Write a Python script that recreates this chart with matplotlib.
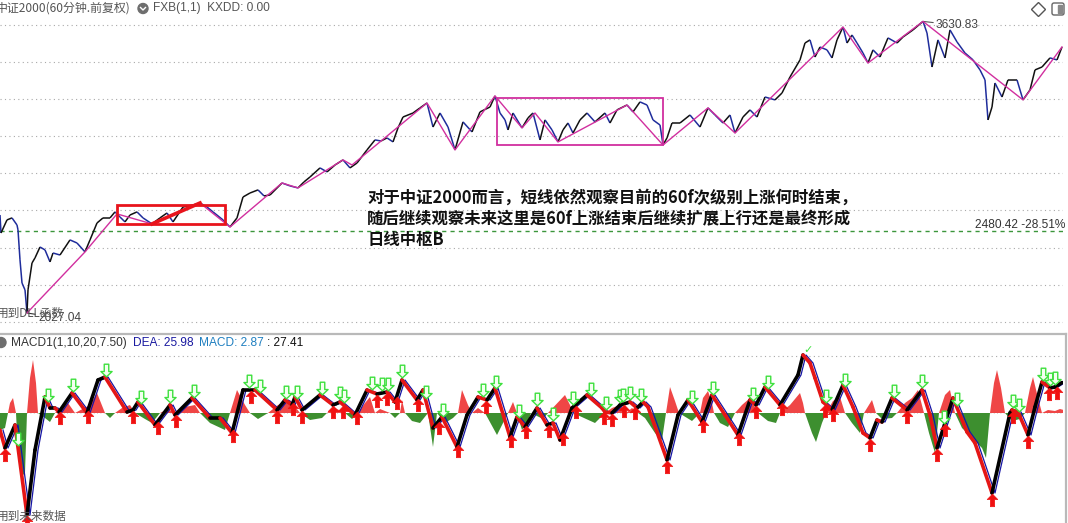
import numpy as np
import matplotlib
matplotlib.use("Agg")
import matplotlib.pyplot as plt
from matplotlib.collections import LineCollection
from matplotlib.path import Path
from matplotlib.patches import Rectangle, Circle, FancyBboxPatch

plt.rcParams['font.family'] = ['Noto Sans CJK SC', 'DejaVu Sans']

# ---- price panel (60 min bars, close values) ----
bar = [0, 1, 7, 12, 17, 18, 20, 22, 25, 27, 28, 32, 35, 40, 45, 50, 53, 60, 70, 77,
       85, 90, 97, 103, 110, 115, 120, 125, 130, 137, 143, 152, 160, 167, 173, 183, 193, 200, 207, 213,
       223, 230, 237, 243, 250, 258, 264, 270, 282, 290, 298, 304, 310, 320, 327, 335, 343, 350, 357, 367,
       375, 381, 387, 393, 398, 403, 413, 420, 427, 433, 440, 448, 455, 463, 472, 480, 490, 495, 500, 505,
       508, 513, 522, 528, 533, 540, 545, 552, 558, 563, 568, 573, 580, 587, 595, 605, 610, 617, 627, 633,
       640, 647, 653, 660, 663, 667, 672, 680, 690, 700, 708, 715, 723, 730, 735, 743, 750, 757, 765, 775,
       782, 790, 800, 805, 810, 815, 820, 827, 832, 837, 843, 847, 852, 857, 863, 868, 873, 880, 888, 897,
       903, 913, 923, 927, 932, 938, 945, 950, 957, 965, 973, 980, 985, 988, 992, 995, 1002, 1008, 1017, 1023,
       1030, 1035, 1042, 1050, 1057, 1062]
close = [2566, 2467, 2539, 2550, 2511, 2484, 2319, 2192, 2154, 2027.04, 2154, 2302, 2330, 2390, 2374, 2308, 2357, 2346, 2429, 2412,
         2363, 2429, 2522, 2550, 2550, 2583, 2555, 2528, 2566, 2583, 2550, 2517, 2550, 2577, 2528, 2610, 2621, 2632, 2610, 2583,
         2539, 2500, 2550, 2665, 2687, 2704, 2671, 2676, 2742, 2726, 2715, 2748, 2775, 2825, 2803, 2841, 2869, 2825, 2852, 2924,
         2979, 2973, 2990, 2968, 3045, 3105, 3127, 3155, 3182, 3050, 3127, 3050, 2924, 3078, 3023, 3133, 3160, 3221, 3127, 3089,
         3034, 3127, 3045, 3100, 3127, 2979, 3089, 3034, 2968, 3034, 3072, 3017, 3089, 3127, 3078, 3127, 3072, 3144, 3171, 3133,
         3188, 3171, 3089, 3061, 2951, 2990, 3072, 3072, 3116, 3050, 3155, 3116, 3072, 3116, 3017, 3105, 3144, 3105, 3215, 3199,
         3237, 3325, 3419, 3512, 3529, 3435, 3490, 3474, 3430, 3529, 3600, 3512, 3556, 3512, 3457, 3402, 3474, 3435, 3540, 3512,
         3545, 3584, 3630.83, 3567, 3380, 3529, 3430, 3584, 3518, 3457, 3419, 3364, 3309, 3089, 3160, 3292, 3215, 3309, 3309, 3199,
         3254, 3364, 3380, 3430, 3419, 3490]

# zigzag (FXB) pivots
zz_bar = [27, 85, 117, 152, 200, 230, 282, 298, 343, 352, 427, 455, 495, 522, 535, 558, 627, 663, 708, 735,
          843, 868, 923, 1023, 1062]
zz_val = [2027.04, 2363, 2572, 2517, 2632, 2500, 2742, 2715, 2869, 2841, 3182, 2924, 3221, 3045, 3127, 2968, 3171, 2951, 3155, 3017,
          3600, 3402, 3630.83, 3199, 3490]

hi_val = 3630.83
lo_val = 2027.04
ref_val = 2480.42
ref_pct = -28.51
grid_price = [3611, 3407, 3203, 2999, 2795, 2591, 2387, 2183, 1979]

# boxes drawn by the author: (start bar, end bar, low, high)
red_box = (117, 225, 2517, 2621)
red_seg_bar = [152, 200]
red_seg_val = [2517, 2632]
pink_box = (497, 663, 2951, 3210)

# ---- MACD1 panel ----
macd_bar = [0, 5, 15, 27, 35, 45, 50, 55, 59, 72, 87, 98, 105, 127, 133, 138, 155, 170, 175, 192,
            210, 220, 232, 243, 255, 277, 285, 292, 295, 302, 320, 333, 340, 355, 367, 377, 387, 395, 402, 417,
            423, 433, 442, 457, 467, 478, 487, 495, 510, 517, 525, 537, 547, 553, 560, 572, 587, 602, 605, 612,
            620, 630, 637, 643, 648, 667, 678, 688, 702, 712, 725, 738, 750, 756, 765, 780, 798, 803, 810, 815,
            823, 832, 843, 853, 863, 870, 877, 882, 892, 907, 922, 930, 937, 945, 953, 967, 975, 992, 1010, 1012,
            1018, 1028, 1035, 1042, 1050, 1055, 1062]
macd_val = [-15.3, -31.5, -10.8, -91.8, -33.3, 14.4, 4.5, 4.5, 0.9, 18, 0, 29.7, 32.4, 0.9, 2.7, 9.9, -10.8, 7.2, -1.8, 13.5,
            -4.5, -4.5, -18, 20.7, 20.7, 2.7, 11.7, 7.2, 14.4, 2.7, 16.2, 7.2, 9.9, -1.8, 20.7, 17.1, 18.9, 9.9, 29.7, 11.7,
            20.7, -13.5, -3.6, -30.6, -1.8, 14.4, 11.7, 22.5, -21.6, -3.6, -12.6, 4.5, -10.8, -9, -24.3, 4.5, 16.2, 4.5, 0.9, 0,
            7.2, 9.9, 4.5, 9.9, 5.4, -42.3, -1.8, 11.7, -8.1, 16.2, -1.8, -19.8, 11.7, 7.2, 23.4, 7.2, 34.2, 52.2, 45, 31.5,
            9.9, 2.7, 25.2, 5.4, -18, -22.5, -6.3, -8.1, 13.5, 2.7, 20.7, -1.8, -31.5, -9, 13.5, -17.1, -27, -72, 0, 2.7,
            0.9, -19.8, 5.4, 27.9, 22.5, 23.4, 27.41]

hist_bar = [0, 5, 8, 10, 13, 16, 18, 21, 25, 27, 30, 33, 36, 38, 45, 50, 55, 60, 68, 75,
            90, 97, 103, 105, 110, 115, 122, 130, 135, 145, 152, 160, 168, 175, 185, 195, 200, 210, 225, 230,
            237, 245, 250, 258, 268, 278, 290, 300, 310, 322, 327, 335, 345, 352, 358, 365, 370, 375, 380, 390,
            395, 400, 402, 405, 412, 420, 428, 433, 437, 445, 453, 458, 462, 468, 472, 478, 485, 497, 503, 508,
            513, 517, 522, 528, 531, 543, 548, 565, 570, 573, 595, 605, 612, 620, 626, 632, 638, 645, 655, 662,
            666, 670, 675, 679, 692, 700, 703, 708, 712, 714, 720, 728, 735, 742, 750, 758, 768, 776, 780, 790,
            800, 803, 805, 812, 816, 822, 826, 833, 840, 845, 852, 860, 864, 872, 876, 882, 892, 897, 905, 912,
            918, 924, 929, 935, 939, 945, 950, 955, 962, 972, 982, 986, 990, 994, 997, 1001, 1005, 1012, 1020, 1025,
            1030, 1033, 1038, 1042, 1048, 1055, 1060, 1063]
hist_val = [-15.3, -13.5, 0, 9, 13.5, 0, -36, -57.6, -54, 0, 31.5, 47.7, 27, 0, -4.5, -8.1, 0, 4.5, 9, 0,
            7.2, 18, 4.5, 0, -4.5, 0, 4.5, 7.2, 0, -5.4, -9, 0, 3.6, 0, 5.4, 7.2, 0, -9, -15.3, 0,
            20.7, 7.2, 0, -5.4, 0, 7.2, 11.7, 0, -6.3, -4.5, 0, 4.5, 0, -5.4, 0, 9, 14.4, 0, 3.6, 0,
            -4.5, 0, 11.7, 0, -7.2, -9, 0, -30.6, 0, -9, -4.5, 0, 20.7, 7.2, 0, 4.5, 0, -19.8, -9, 0,
            9.9, 0, -15.3, -7.2, 0, -5.4, 0, 16.2, 7.2, 0, -9, 0, 4.5, 7.2, 0, 4.5, 0, -4.5, -18, -24.3,
            0, 23.4, 10.8, 0, -7.2, 0, 13.5, 19.8, 9, 0, -9, -12.6, 0, 7.2, 13.5, 0, -7.2, -9, 0, 7.2,
            18, 9, 0, -18, -26.1, -9, 0, 10.8, 14.4, 0, -9, -18, 0, 11.7, 0, -5.4, -4.5, 0, 9, 13.5,
            20.7, 0, -18, -36, 0, 16.2, 20.7, 0, -13.5, -22.5, -31.5, -40.5, 0, 27, 38.7, 22.5, 0, -7.2, -5.4, 0,
            22.5, 32.4, 13.5, 0, 2.7, 1.8, 3.6, 2.87]

dea_last = 25.98
buy_bar = [5, 27, 60, 88, 133, 158, 176, 233, 251, 277, 293, 302, 333, 343, 357, 377, 387, 397, 418, 439,
           458, 486, 511, 526, 549, 563, 576, 604, 612, 624, 635, 667, 703, 739, 756, 782, 825, 833, 870, 907,
           937, 945, 992, 1013, 1028, 1049, 1057]
sell_bar = [18, 48, 73, 106, 141, 170, 194, 249, 260, 286, 297, 322, 340, 344, 372, 382, 388, 402, 426, 443,
            483, 496, 519, 537, 553, 573, 591, 606, 620, 623, 630, 641, 692, 713, 753, 768, 826, 845, 894, 922,
            944, 957, 1013, 1019, 1043, 1050, 1055]

W, H = 1068, 523
fig = plt.figure(figsize=(W / 100, H / 100), dpi=100)
fig.patch.set_facecolor('white')

# price axes: pixel rows 0..330
ax1 = fig.add_axes([0, 1 - 330 / H, 1063 / W, 330 / H])
ax1.set_xlim(0, 1063)
ax1.set_ylim(1933.5, 3748.5)
ax1.axis('off')

for g in grid_price:
    ax1.axhline(g, color='#a9a9a9', lw=0.8, ls=(0, (1, 3)), zorder=0)
ax1.axhline(ref_val, color='#3c963c', lw=1.0, ls=(0, (3, 3)), zorder=1)

x = np.array(bar, dtype=float)
y = np.array(close, dtype=float)
segs = np.stack([np.column_stack([x[:-1], y[:-1]]), np.column_stack([x[1:], y[1:]])], axis=1)
cols = np.where(np.diff(y) >= 0, '#111111', '#1f2d9c')
ax1.add_collection(LineCollection(segs, colors=cols, linewidths=1.1, zorder=3))

ax1.plot(zz_bar, zz_val, color='#d12f9f', lw=1.0, zorder=4)
ax1.plot(red_seg_bar, red_seg_val, color='#e8141c', lw=2.6, zorder=5)
ax1.add_patch(Rectangle((red_box[0], red_box[2]), red_box[1] - red_box[0], red_box[3] - red_box[2],
                        fill=False, ec='#e8141c', lw=2.0, zorder=5))
ax1.add_patch(Rectangle((pink_box[0], pink_box[2]), pink_box[1] - pink_box[0], pink_box[3] - pink_box[2],
                        fill=False, ec='#d12f9f', lw=1.3, zorder=5))

lat = ['Liberation Sans', 'DejaVu Sans']
ax1.annotate(f'{hi_val:.2f}', xy=(923, hi_val), xytext=(13, -4), textcoords='offset pixels',
             ha='left', va='center', fontsize=8.6, color='#444444', family=lat,
             arrowprops=dict(arrowstyle='-', color='#555555', lw=0.8, shrinkA=0, shrinkB=0))
ax1.annotate(f'{lo_val:.2f}', xy=(27, lo_val), xytext=(11, -5), textcoords='offset pixels',
             ha='left', va='center', fontsize=8.6, color='#444444', family=lat,
             arrowprops=dict(arrowstyle='-', color='#333333', lw=0.8, shrinkA=0, shrinkB=0))
ax1.annotate(f'{ref_val:.2f} {ref_pct:.2f}%', xy=(1065, ref_val), xycoords=('axes pixels', 'data'),
             xytext=(0, 6), textcoords='offset pixels', ha='right', va='center',
             fontsize=8.6, color='#333333', family=lat, annotation_clip=False)

# MACD axes: pixel rows 334..523
ax2 = fig.add_axes([0, 0, 1063 / W, 189 / H])
ax2.set_xlim(0, 1063)
ax2.set_ylim(-99.0, 71.1)
ax2.axis('off')
ax2.axhline(51.3, color='#a9a9a9', lw=0.8, ls=(0, (1, 3)), zorder=0)
ax2.axhline(0, color='#c8c8c8', lw=0.6, ls=(0, (1, 3)), zorder=0)

hb = np.array(hist_bar, dtype=float)
hv = np.array(hist_val, dtype=float)
ax2.fill_between(hb, hv, 0, where=hv >= 0, color='#ef4646', lw=0, zorder=1, interpolate=True)
ax2.fill_between(hb, hv, 0, where=hv <= 0, color='#3d8f2f', lw=0, zorder=1, interpolate=True)

mb = np.array(macd_bar, dtype=float)
mv = np.array(macd_val, dtype=float)
ax2.plot(mb + 3, mv, color='#1515a5', lw=0.9, zorder=2)
msegs = np.stack([np.column_stack([mb[:-1], mv[:-1]]), np.column_stack([mb[1:], mv[1:]])], axis=1)
mcols = np.where(np.diff(mv) >= 0, '#000000', '#e51616')
ax2.add_collection(LineCollection(msegs, colors=mcols, linewidths=2.6, zorder=3, capstyle='round'))

up_arrow = Path([(0, -0.05), (0.42, -0.48), (0.17, -0.48), (0.17, -1.05), (-0.17, -1.05),
                 (-0.17, -0.48), (-0.42, -0.48), (0, -0.05)], closed=True)
dn_arrow = Path([(0, 0.2), (0.42, 0.6), (0.17, 0.6), (0.17, 1.15), (-0.17, 1.15),
                 (-0.17, 0.6), (-0.42, 0.6), (0, 0.2)], closed=True)
ax2.plot(buy_bar, np.interp(buy_bar, mb, mv), ls='none', marker=up_arrow, ms=19,
         mfc='#f01010', mec='#f01010', mew=0.5, zorder=5)
ax2.plot(sell_bar, np.interp(sell_bar, mb, mv), ls='none', marker=dn_arrow, ms=22,
         mfc='#f4fff0', mec='#3ee03e', mew=1.0, zorder=5)
ax2.text(808, 52.2, '\u2713', color='#3ee03e', fontsize=8, ha='center', va='bottom',
         family=['DejaVu Sans'], zorder=6)

# overlay in pixel coordinates for headers and frame
ov = fig.add_axes([0, 0, 1, 1])
ov.set_xlim(0, W)
ov.set_ylim(H, 0)
ov.axis('off')
ov.patch.set_alpha(0)

ov.plot([0, 1066], [334, 334], color='#b9b9b9', lw=1.6)
ov.plot([1066, 1066], [334, H], color='#b9b9b9', lw=1.6)

ov.text(-4, 8, '中证2000(60分钟.前复权)', fontsize=8.6, color='#555555', ha='left', va='center')
ov.add_patch(Circle((143, 8.5), 5, color='#6e6e6e'))
ov.plot([140.5, 143, 145.5], [7.5, 10, 7.5], color='white', lw=1.0)
ov.text(153, 8, 'FXB(1,1)  KXDD: 0.00', fontsize=8.6, color='#555555', ha='left', va='center', family=lat)

ov.plot([1038], [9], marker='D', ms=7.5, mfc='none', mec='#555555', mew=1.0)
ov.add_patch(FancyBboxPatch((1052, 3), 12, 12, boxstyle='round,pad=0,rounding_size=2',
                            fc='white', ec='#666666', lw=1.0))
ov.add_patch(Rectangle((1058, 5), 4, 8, color='#888888'))

ov.add_patch(Circle((1, 342.5), 5, color='#6e6e6e'))
ov.text(11, 343, 'MACD1(1,10,20,7.50)', fontsize=8.6, color='#333333', ha='left', va='center', family=lat)
ov.text(133, 343, f'DEA: {dea_last:.2f}', fontsize=8.6, color='#1a1aa0', ha='left', va='center', family=lat)
ov.text(199, 343, f'MACD: {hist_val[-1]:.2f}', fontsize=8.6, color='#1f7fc0', ha='left', va='center', family=lat)
ov.text(267, 343, f': {macd_val[-1]:.2f}', fontsize=8.6, color='#111111', ha='left', va='center', family=lat)

ov.text(-3, 313, '用到DLL函数', fontsize=8.4, color='#555555', ha='left', va='center')
ov.text(-3, 516, '用到未来数据', fontsize=8.4, color='#555555', ha='left', va='center')

note = ['对于中证2000而言，短线依然观察目前的60f次级别上涨何时结束，',
        '随后继续观察未来这里是60f上涨结束后继续扩展上行还是最终形成',
        '日线中枢B']
for i, line in enumerate(note):
    ov.text(367, 198 + 21 * i, line, fontsize=11.8, fontweight='bold', color='#111111',
            ha='left', va='center')

fig.savefig('out.png', dpi=100)
